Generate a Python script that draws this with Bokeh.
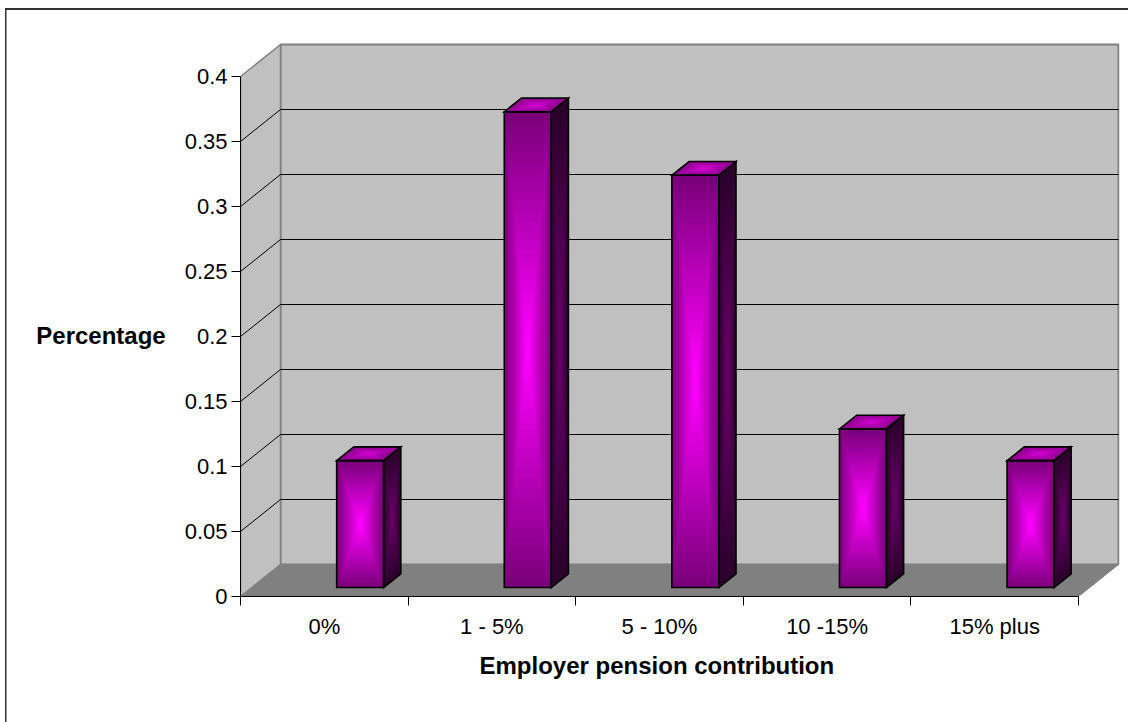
import numpy as np
from bokeh.plotting import figure
from bokeh.models import ColumnDataSource, Range1d, FixedTicker, Title
from bokeh.embed import file_html
from bokeh.resources import INLINE

# ---------------- data ----------------
categories = ["0%", "1 - 5%", "5 - 10%", "10 -15%", "15% plus"]
values = [0.0976, 0.3659, 0.3171, 0.1220, 0.0976]
y_ticks = [0, 0.05, 0.1, 0.15, 0.2, 0.25, 0.3, 0.35, 0.4]
y_tick_labels = ["0", "0.05", "0.1", "0.15", "0.2", "0.25", "0.3", "0.35", "0.4"]
x_title = "Employer pension contribution"
y_title = "Percentage"

# ---------------- layout constants ----------------
W, H = 1128, 722
FL, FR, FT, FB = 240, 1119, 42, 596      # frame edges (px)
PX_CAT = 167.6                           # px per category
PX_UNIT = 1300.0                         # px per value unit
n = len(categories)
y_max = y_ticks[-1]
x_end = (FR - FL) / PX_CAT
y_end = (FB - FT) / PX_UNIT
DX = 40 / PX_CAT                         # depth offset (x, data units)
DY = 32 / PX_UNIT                        # depth offset (y, data units)
FRONT = 0.28                             # depth fraction of bar front
BDEPTH = 0.43                            # bar depth fraction
FX, FY = FRONT * DX, FRONT * DY
BDX, BDY = BDEPTH * DX, BDEPTH * DY
BAR_OFF, BAR_W = 0.507, 0.28
FONT = "Liberation Sans"

p = figure(width=W, height=H, x_range=Range1d(0, x_end), y_range=Range1d(0, y_end),
           output_backend="svg", toolbar_location=None,
           min_border_left=FL, min_border_right=W - FR,
           min_border_top=FT, min_border_bottom=H - FB)
p.outline_line_color = None
p.grid.visible = False
p.background_fill_color = "white"
# transparent border area so the chart-area border line (host background) shows
p.border_fill_alpha = 0
p.styles = {
    "background": ("linear-gradient(#333333, #333333) 5px 8px / 100% 2px no-repeat, "
                   "linear-gradient(#333333, #333333) 5px 8px / 1.5px 100% no-repeat, "
                   "#ffffff"),
}

# ---------------- 3D walls ----------------
p.quad(left=DX, right=n + DX, bottom=DY, top=y_max + DY,
       fill_color="#C0C0C0", line_color="#808080", line_width=2)
p.patch([0, DX, DX, 0], [0, DY, y_max + DY, y_max],
        fill_color="#C0C0C0", line_color="#808080", line_width=1.5)
p.patch([0, n, n + DX, DX], [0, 0, DY, DY],
        fill_color="#808080", line_color="#808080", line_width=1)

grid_vals = [v for v in y_ticks if 0 < v < y_max]
p.segment(x0=[0] * len(grid_vals), y0=grid_vals,
          x1=[DX] * len(grid_vals), y1=[v + DY for v in grid_vals],
          line_color="black", line_width=1)
p.segment(x0=[DX] * len(grid_vals), y0=[v + DY for v in grid_vals],
          x1=[n + DX] * len(grid_vals), y1=[v + DY for v in grid_vals],
          line_color="black", line_width=1)


# ---------------- bars (gradient via nested shapes) ----------------
def hx(c):
    c = c.lstrip("#")
    return np.array([int(c[i:i + 2], 16) for i in (0, 2, 4)], dtype=float)


def lerp(c1, c2, t):
    a, b = hx(c1), hx(c2)
    r = a + (b - a) * t
    return "#%02x%02x%02x" % tuple(int(round(x)) for x in r)


N = 24
fl, fr, fb, ft, fc = [], [], [], [], []
side_xs, side_ys, side_c = [], [], []
top_xs, top_ys, top_c = [], [], []
out_xs, out_ys = [], []

for i, v in enumerate(values):
    x0 = i + BAR_OFF + FX
    x1 = x0 + BAR_W
    y0 = FY
    y1 = v + FY
    cx, cy = (x0 + x1) / 2, (y0 + y1) / 2
    side = np.array([[x1, y0], [x1 + BDX, y0 + BDY], [x1 + BDX, y1 + BDY], [x1, y1]])
    top = np.array([[x0, y1], [x1, y1], [x1 + BDX, y1 + BDY], [x0 + BDX, y1 + BDY]])
    sc, tc = side.mean(axis=0), top.mean(axis=0)
    for k in range(N):
        s = 1 - k / N
        t = k / (N - 1)
        fl.append(cx - s * BAR_W / 2)
        fr.append(cx + s * BAR_W / 2)
        fb.append(cy - s * v / 2)
        ft.append(cy + s * v / 2)
        fc.append(lerp("#7a007a", "#ff00ff", t))
        sp = sc + s * (side - sc)
        side_xs.append(list(sp[:, 0]))
        side_ys.append(list(sp[:, 1]))
        side_c.append(lerp("#2a002a", "#6a006a", t))
        tp = tc + s * (top - tc)
        top_xs.append(list(tp[:, 0]))
        top_ys.append(list(tp[:, 1]))
        top_c.append(lerp("#8a008a", "#d400d4", t))
    out_xs += [[x0, x1, x1, x0], list(side[:, 0]), list(top[:, 0])]
    out_ys += [[y0, y0, y1, y1], list(side[:, 1]), list(top[:, 1])]

p.quad(source=ColumnDataSource(dict(left=fl, right=fr, bottom=fb, top=ft, c=fc)),
       left="left", right="right", bottom="bottom", top="top",
       fill_color="c", line_color=None)
p.patches(source=ColumnDataSource(dict(xs=side_xs, ys=side_ys, c=side_c)),
          xs="xs", ys="ys", fill_color="c", line_color=None)
p.patches(source=ColumnDataSource(dict(xs=top_xs, ys=top_ys, c=top_c)),
          xs="xs", ys="ys", fill_color="c", line_color=None)
p.patches(xs=out_xs, ys=out_ys, fill_color=None, line_color="black",
          line_width=1.6, line_join="miter")

# ---------------- axes ----------------
ya = p.yaxis[0]
ya.ticker = FixedTicker(ticks=y_ticks)
ya.bounds = (0, y_max)
ya.major_label_overrides = {t: l for t, l in zip(y_ticks, y_tick_labels)}
ya.major_tick_out = 9
ya.major_tick_in = 0
ya.minor_tick_out = 0
ya.minor_tick_in = 0
ya.axis_line_color = "black"
ya.major_tick_line_color = "black"
ya.major_label_text_font = FONT
ya.major_label_text_font_size = "22px"
ya.major_label_text_color = "black"
ya.major_label_standoff = 4
# title centred on the value axis (a blank first line moves it down half a line)
ya.axis_label = "\n" + y_title
ya.axis_label_orientation = "horizontal"
ya.axis_label_text_font = FONT
ya.axis_label_text_font_size = "24px"
ya.axis_label_text_font_style = "bold"
ya.axis_label_text_color = "black"
ya.axis_label_text_line_height = 1.15
ya.axis_label_standoff = 16

x_centers = [i + 0.5 for i in range(n)]
xa = p.xaxis[0]
xa.ticker = FixedTicker(ticks=x_centers, minor_ticks=list(range(n + 1)))
xa.bounds = (0, n)
xa.major_label_overrides = {t: l for t, l in zip(x_centers, categories)}
xa.major_tick_out = 0
xa.major_tick_in = 0
xa.minor_tick_out = 9
xa.minor_tick_in = 0
xa.minor_tick_line_color = "black"
xa.axis_line_color = "black"
xa.major_label_text_font = FONT
xa.major_label_text_font_size = "22px"
xa.major_label_text_color = "black"
xa.major_label_standoff = 8

# category-axis title, centred on the axis (not on the frame with depth)
p.add_layout(Title(text=x_title, align="left", offset=239, standoff=16,
                   text_font=FONT, text_font_size="24px", text_font_style="bold",
                   text_color="black"), "below")

open("out.html", "w").write(file_html(p, INLINE))
